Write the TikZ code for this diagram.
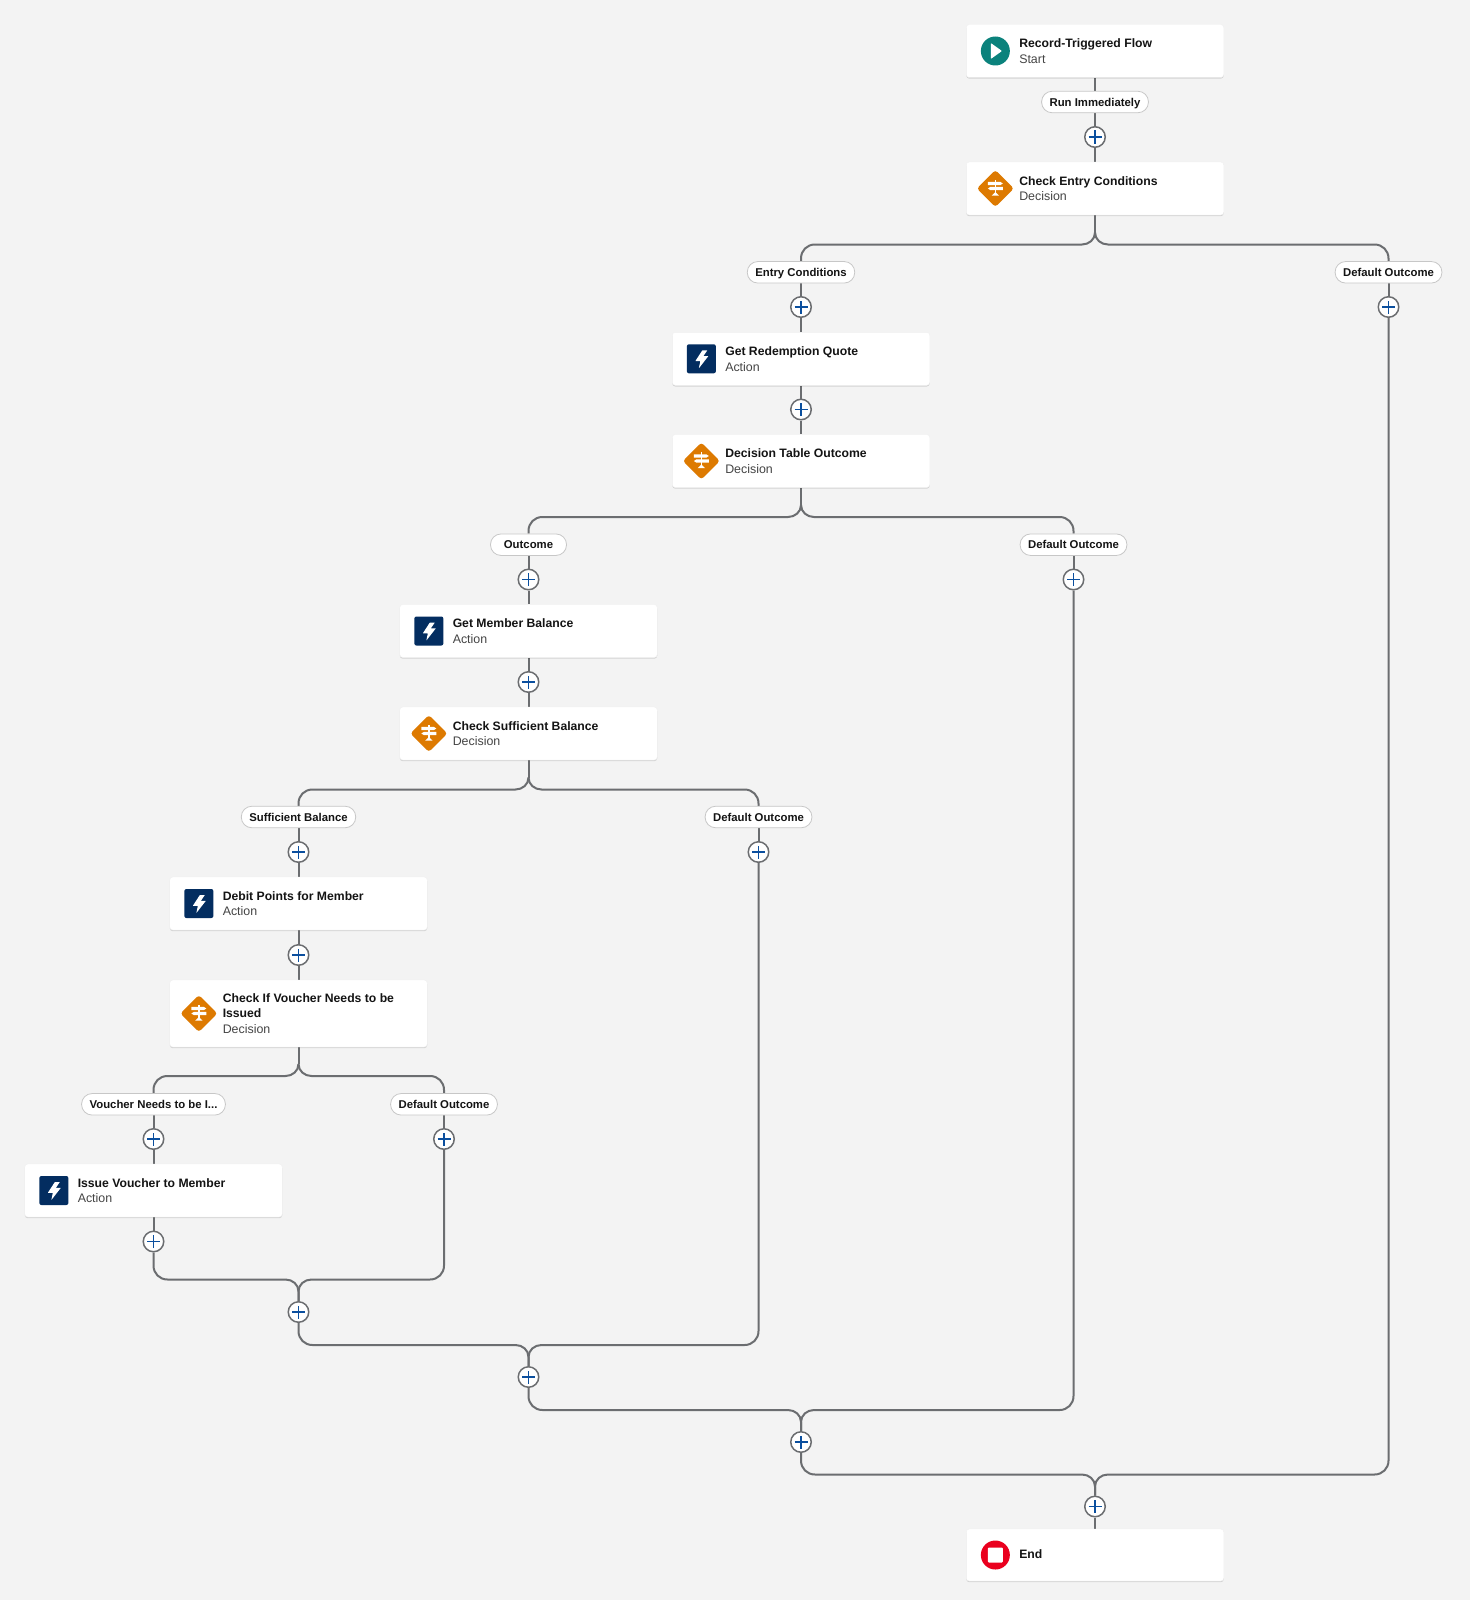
\documentclass[tikz,border=0pt]{standalone}
\usepackage{fontspec}
\setmainfont{Liberation Sans}
\usetikzlibrary{shadows,backgrounds}
\definecolor{bgc}{HTML}{F3F3F3}
\definecolor{linec}{HTML}{6B6D70}
\definecolor{plusc}{HTML}{0B4F9E}
\definecolor{tealc}{HTML}{0B827C}
\definecolor{orangec}{HTML}{DD7A01}
\definecolor{navyc}{HTML}{032D60}
\definecolor{redc}{HTML}{EA001E}
\definecolor{subc}{HTML}{444444}
\tikzset{
  cardbox/.style={draw=black!6,line width=.4pt,fill=white,rounded corners=3pt,minimum width=257.5pt,minimum height=53pt,inner sep=0pt,
    general shadow={shadow yshift=-1.2pt,fill=black,opacity=.13}},
  cardtext/.style={anchor=west,align=left,inner sep=0pt,text=black!92,font=\fontsize{12.4}{15.8}\selectfont},
  pillbox/.style={draw=black!22,line width=.8pt,fill=white,rounded corners=10.5pt,minimum height=21.5pt,minimum width=76pt,inner xsep=8pt,inner ysep=0pt,text height=8.2pt,text depth=0pt,text=black!92,font=\fontsize{11.35}{13}\selectfont\bfseries},
  plusbox/.style={circle,draw=linec,line width=1.5pt,fill=white,minimum size=20.5pt,inner sep=0pt,
    path picture={\draw[plusc,line width=1.6pt] ([xshift=-6.5pt]path picture bounding box.center) -- ([xshift=6.5pt]path picture bounding box.center);
                  \draw[plusc,line width=1.6pt] ([yshift=-6.5pt]path picture bounding box.center) -- ([yshift=6.5pt]path picture bounding box.center);}},
  conn/.style={draw=linec,line width=2pt}
}
\newcommand{\Tt}[1]{\fontsize{12.2}{15.8}\selectfont\bfseries\vphantom{Ag}#1}
\newcommand{\CardN}[6][53]{% height name x y title sub
  \node[cardbox,minimum height=#1pt] (#2) at (#3,#4) {};
  \node[cardtext] (#2t) at ([xshift=53pt,yshift=-1.3pt]#2.west) {#5\\\color{subc}\vphantom{Ag}#6};
}
\newcommand{\IconStart}[1]{\begin{scope}[shift={([xshift=29.3pt]#1.west)}]
  \fill[tealc] (0,0) circle (14.5);
  \fill[white,rounded corners=.8pt] (-4.6,-8) -- (6.6,0) -- (-4.6,8) -- cycle;
\end{scope}}
\newcommand{\IconEnd}[1]{\begin{scope}[shift={([xshift=29.3pt]#1.west)}]
  \fill[redc] (0,0) circle (14.5);
  \fill[white,rounded corners=1pt] (-7.5,-7.5) rectangle (7.5,7.5);
\end{scope}}
\newcommand{\IconAct}[1]{\begin{scope}[shift={([xshift=29.3pt]#1.west)}]
  \fill[navyc,rounded corners=2pt] (-14.5,-14.5) rectangle (14.5,14.5);
  \fill[white,rounded corners=.4pt] (1,-8.5) -- (-6,2.3) -- (-1,2.3) -- (-2.5,9.5) -- (7,-2.7) -- (2,-2.7) -- (6,-8.5) -- cycle;
\end{scope}}
\newcommand{\IconDec}[1]{\begin{scope}[shift={([xshift=29.3pt]#1.west)}]
  \fill[orangec,rounded corners=3pt] (-18.5,0) -- (0,-18.5) -- (18.5,0) -- (0,18.5) -- cycle;
  \fill[white] (-.8,-9) rectangle (.8,5);
  \fill[white] (-7.5,-6.6) -- (5,-6.6) -- (7.5,-5) -- (5,-3.4) -- (-7.5,-3.4) -- cycle;
  \fill[white] (-5,-1.6) -- (7.5,-1.6) -- (7.5,1.6) -- (-5,1.6) -- (-7.5,0) -- cycle;
  \fill[white] (-3.8,7.2) -- (0,3.6) -- (3.8,7.2) -- cycle;
\end{scope}}
% split below a decision card: card x yb  leftpill xL rightpill xR
\newcommand{\Ysplit}[7]{%
  \draw[conn] (#1.south) -- ({#2},{#3-12});
  \draw[conn] ({#2},{#3-12}) .. controls ({#2},{#3-5}) and ({#2-6},{#3}) .. ({#2-13},{#3}) -- ({#5+14},{#3}) .. controls ({#5+6},{#3}) and ({#5},{#3+6}) .. ({#5},{#3+14}) -- (#4.north);
  \draw[conn] ({#2},{#3-12}) .. controls ({#2},{#3-5}) and ({#2+6},{#3}) .. ({#2+13},{#3}) -- ({#7-14},{#3}) .. controls ({#7-6},{#3}) and ({#7},{#3+6}) .. ({#7},{#3+14}) -- (#6.north);
}
% merge: L xL R xR P xP ym
\newcommand{\Ymerge}[7]{%
  \draw[conn] (#1.south) -- ({#2},{#7-14}) .. controls ({#2},{#7-6}) and ({#2+6},{#7}) .. ({#2+14},{#7}) -- ({#6-13},{#7}) .. controls ({#6-6},{#7}) and ({#6},{#7+5}) .. ({#6},{#7+12}) -- (#5.north);
  \draw[conn] (#3.south) -- ({#4},{#7-14}) .. controls ({#4},{#7-6}) and ({#4-6},{#7}) .. ({#4-14},{#7}) -- ({#6+13},{#7}) .. controls ({#6+6},{#7}) and ({#6},{#7+5}) .. ({#6},{#7+12}) -- (#5.north);
}
\begin{document}
\begin{tikzpicture}[x=1pt,y=-1pt]
\pgfdeclarelayer{back}\pgfsetlayers{back,main}
\useasboundingbox (0,0) rectangle (1470,1600);
% cards
\CardN{start}{1095}{51}{\Tt{Record-Triggered Flow}}{Start}
\CardN{entry}{1095}{188.5}{\Tt{Check Entry Conditions}}{Decision}
\CardN{quote}{801}{358.8}{\Tt{Get Redemption Quote}}{Action}
\CardN{table}{801}{461}{\Tt{Decision Table Outcome}}{Decision}
\CardN{bal}{528.5}{631}{\Tt{Get Member Balance}}{Action}
\CardN{suff}{528.5}{733.5}{\Tt{Check Sufficient Balance}}{Decision}
\CardN{debit}{298.5}{903.5}{\Tt{Debit Points for Member}}{Action}
\CardN[67]{vneed}{298.5}{1013.5}{\Tt{Check If Voucher Needs to be}\\\Tt{Issued}}{Decision}
\CardN{issue}{153.5}{1190.5}{\Tt{Issue Voucher to Member}}{Action}
\node[cardbox,minimum height=52pt] (endc) at (1095,1555) {};
\node[cardtext] (endct) at ([xshift=53pt,yshift=-.8pt]endc.west) {\Tt{End}};
\IconStart{start}\IconEnd{endc}
\IconDec{entry}\IconDec{table}\IconDec{suff}\IconDec{vneed}
\IconAct{quote}\IconAct{bal}\IconAct{debit}\IconAct{issue}
% pills
\node[pillbox] (pRun) at (1095,102) {Run Immediately};
\node[pillbox] (pEntry) at (801,272.3) {Entry Conditions};
\node[pillbox] (pDef1) at (1388.5,272.3) {Default Outcome};
\node[pillbox] (pOut) at (528.5,544.7) {Outcome};
\node[pillbox] (pDef2) at (1073.5,544.7) {Default Outcome};
\node[pillbox] (pSuff) at (298.5,817) {Sufficient Balance};
\node[pillbox] (pDef3) at (758.5,817) {Default Outcome};
\node[pillbox] (pVou) at (153.5,1104.3) {Voucher Needs to be I...};
\node[pillbox] (pDef4) at (444,1104.3) {Default Outcome};
% plus buttons
\node[plusbox] (a1) at (1095,137) {};
\node[plusbox] (a2) at (801,307) {};
\node[plusbox] (a3) at (1388.5,307) {};
\node[plusbox] (a4) at (801,409.5) {};
\node[plusbox] (a5) at (528.5,579.5) {};
\node[plusbox] (a6) at (1073.5,579.5) {};
\node[plusbox] (a7) at (528.5,682) {};
\node[plusbox] (a8) at (298.5,852) {};
\node[plusbox] (a9) at (758.5,852) {};
\node[plusbox] (a10) at (298.5,955) {};
\node[plusbox] (a11) at (153.5,1139) {};
\node[plusbox] (a12) at (444,1139) {};
\node[plusbox] (a13) at (153.5,1241.5) {};
\node[plusbox] (m1) at (298.5,1312) {};
\node[plusbox] (m2) at (528.5,1377) {};
\node[plusbox] (m3) at (801,1442) {};
\node[plusbox] (m4) at (1095,1506.5) {};
% connectors
\begin{pgfonlayer}{back}
\fill[bgc] (0,0) rectangle (1470,1600);
\draw[conn] (start) -- (pRun);
\draw[conn] (pRun) -- (a1);
\draw[conn] (a1) -- (entry);
\Ysplit{entry}{1095}{244.5}{pEntry}{801}{pDef1}{1388.5}
\draw[conn] (pEntry) -- (a2);
\draw[conn] (pDef1) -- (a3);
\draw[conn] (a2) -- (quote);
\draw[conn] (quote) -- (a4);
\draw[conn] (a4) -- (table);
\Ysplit{table}{801}{517}{pOut}{528.5}{pDef2}{1073.5}
\draw[conn] (pOut) -- (a5);
\draw[conn] (pDef2) -- (a6);
\draw[conn] (a5) -- (bal);
\draw[conn] (bal) -- (a7);
\draw[conn] (a7) -- (suff);
\Ysplit{suff}{528.5}{789.5}{pSuff}{298.5}{pDef3}{758.5}
\draw[conn] (pSuff) -- (a8);
\draw[conn] (pDef3) -- (a9);
\draw[conn] (a8) -- (debit);
\draw[conn] (debit) -- (a10);
\draw[conn] (a10) -- (vneed);
\Ysplit{vneed}{298.5}{1076}{pVou}{153.5}{pDef4}{444}
\draw[conn] (pVou) -- (a11);
\draw[conn] (pDef4) -- (a12);
\draw[conn] (a11) -- (issue);
\draw[conn] (issue) -- (a13);
\Ymerge{a13}{153.5}{a12}{444}{m1}{298.5}{1279.5}
\Ymerge{m1}{298.5}{a9}{758.5}{m2}{528.5}{1345}
\Ymerge{m2}{528.5}{a6}{1073.5}{m3}{801}{1410}
\Ymerge{m3}{801}{a3}{1388.5}{m4}{1095}{1474.5}
\draw[conn] (m4) -- (endc);
\end{pgfonlayer}
\end{tikzpicture}
\end{document}
